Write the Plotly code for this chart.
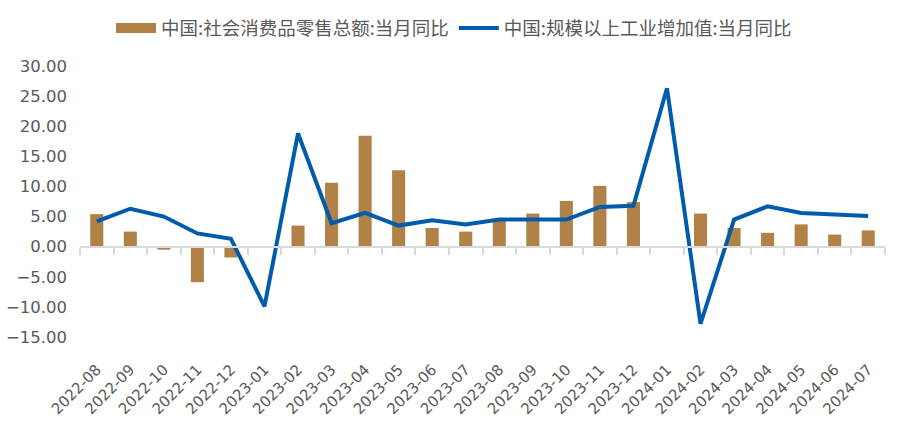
import plotly.graph_objects as go

months = ["2022-08", "2022-09", "2022-10", "2022-11", "2022-12", "2023-01",
          "2023-02", "2023-03", "2023-04", "2023-05", "2023-06", "2023-07",
          "2023-08", "2023-09", "2023-10", "2023-11", "2023-12", "2024-01",
          "2024-02", "2024-03", "2024-04", "2024-05", "2024-06", "2024-07"]

retail_yoy = [5.4, 2.5, -0.5, -5.9, -1.8, None,
              3.5, 10.6, 18.4, 12.7, 3.1, 2.5,
              4.6, 5.5, 7.6, 10.1, 7.4, None,
              5.5, 3.1, 2.3, 3.7, 2.0, 2.7]

industry_yoy = [4.2, 6.3, 5.0, 2.2, 1.3, -9.9,
                18.8, 3.9, 5.6, 3.5, 4.4, 3.7,
                4.5, 4.5, 4.5, 6.6, 6.8, 26.3,
                -12.8, 4.5, 6.7, 5.6, 5.3, 5.1]

name_bar = "中国:社会消费品零售总额:当月同比"
name_line = "中国:规模以上工业增加值:当月同比"

BAR_COLOR = "#B08247"
LINE_COLOR = "#005BAC"

fig = go.Figure()
fig.add_trace(go.Bar(x=months, y=retail_yoy, name=name_bar,
                     legendgroup="retail", showlegend=False,
                     marker=dict(color=BAR_COLOR, line=dict(width=0))))
# legend-only entry giving a wide rectangular swatch like the original
fig.add_trace(go.Scatter(x=months, y=[None] * len(months), name=name_bar,
                         legendgroup="retail", mode="lines",
                         line=dict(color=BAR_COLOR, width=11),
                         hoverinfo="skip"))
fig.add_trace(go.Scatter(x=months, y=industry_yoy, name=name_line, mode="lines",
                         line=dict(color=LINE_COLOR, width=4)))
# helper trace for the zero axis with boundary ticks
fig.add_trace(go.Scatter(x=months, y=[None] * len(months), xaxis="x2",
                         showlegend=False, hoverinfo="skip"))

fig.update_layout(
    width=908, height=437,
    margin=dict(l=80, r=23, t=66, b=100, autoexpand=False),
    paper_bgcolor="white", plot_bgcolor="white",
    bargap=0.61,
    font=dict(family="DejaVu Sans", color="#595959"),
    legend=dict(orientation="h", x=0.5, xanchor="center", xref="container",
                y=0.935, yanchor="middle", yref="container",
                font=dict(family="Noto Sans CJK SC", size=18.5, color="#595959"),
                itemwidth=40, traceorder="normal", bgcolor="rgba(0,0,0,0)"),
    xaxis=dict(type="category", range=[-0.5, len(months) - 0.5],
               automargin=False,
               showline=False, showgrid=False, zeroline=False, ticks="",
               tickangle=-45, tickfont=dict(size=15, color="#595959"),
               ticklabelstandoff=20),
    xaxis2=dict(type="category", overlaying="x", matches="x", anchor="free",
                position=1 / 3, side="bottom", showline=True, automargin=False,
                linecolor="#D9D9D9", linewidth=2, ticks="outside",
                tickson="boundaries", ticklen=7, tickwidth=2,
                tickcolor="#D9D9D9", showticklabels=False, showgrid=False),
    yaxis=dict(range=[-15, 30], dtick=5, tickformat=".2f", showgrid=False,
               automargin=False,
               zeroline=False, showline=False,
               tickfont=dict(size=16.5, color="#595959"),
               ticklabelstandoff=12),
)

fig.write_html("out.html")
